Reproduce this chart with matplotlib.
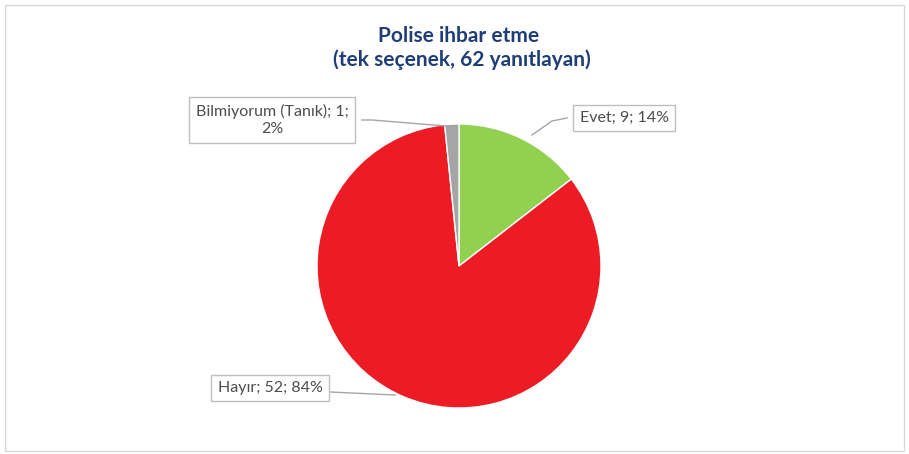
import matplotlib
matplotlib.use("Agg")
import matplotlib.pyplot as plt
from matplotlib.patches import Rectangle

# data
categories = ["Evet", "Hayır", "Bilmiyorum (Tanık)"]
counts = [9, 52, 1]
percents = [14, 84, 2]
colors = ["#92D050", "#ED1C24", "#A5A5A5"]

W, H = 909, 454
fig = plt.figure(figsize=(W / 100, H / 100), dpi=100)
ax = fig.add_axes([0, 0, 1, 1])

cx, cy, r = 459, H - 266, 142
wedges, _ = ax.pie(
    counts,
    colors=colors,
    startangle=90,
    counterclock=False,
    center=(cx, cy),
    radius=r,
    wedgeprops=dict(edgecolor="white", linewidth=1),
    frame=True,
)
ax.set_xlim(0, W)
ax.set_ylim(0, H)
ax.set_aspect("equal")
ax.axis("off")

# outer chart frame
ax.add_patch(Rectangle((5, 3), W - 10, H - 8, fill=False, edgecolor="#D9D9D9", linewidth=1))

fig.text(459 / W, 1 - 36 / H, "Polise ihbar etme", ha="center", va="center",
         fontsize=15, fontweight="bold", color="#1F3E78", family="Lato")
fig.text(462 / W, 1 - 60 / H, "(tek seçenek, 62 yanıtlayan)", ha="center", va="center",
         fontsize=15, fontweight="bold", color="#1F3E78", family="Lato")

label_style = dict(fontsize=11.5, color="#4D4D4D", family="Lato", ha="center", va="center",
                   linespacing=1.3)
box = dict(boxstyle="square,pad=0.4", facecolor="white", edgecolor="#BFBFBF", linewidth=1)

# label positions (pixel, top-origin) and leader line ends
label_pos = [(624, 118), (270, 388), (272, 120)]
line_pts = [
    [(567, 118), (552, 121), (532, 135)],
    [(330, 392), (395, 395)],
    [(362, 120), (372, 120), (446, 126)],
]
texts = [
    "{}; {}; {}%".format(categories[0], counts[0], percents[0]),
    "{}; {}; {}%".format(categories[1], counts[1], percents[1]),
    "{}; {};\n{}%".format(categories[2], counts[2], percents[2]),
]
for (lx, ly), pts, t in zip(label_pos, line_pts, texts):
    xs = [p[0] for p in pts]
    ys = [H - p[1] for p in pts]
    ax.plot(xs, ys, color="#A6A6A6", linewidth=1, zorder=1)
    ax.text(lx, H - ly, t, bbox=box, zorder=3, **label_style)

fig.savefig("out.png", dpi=100)
